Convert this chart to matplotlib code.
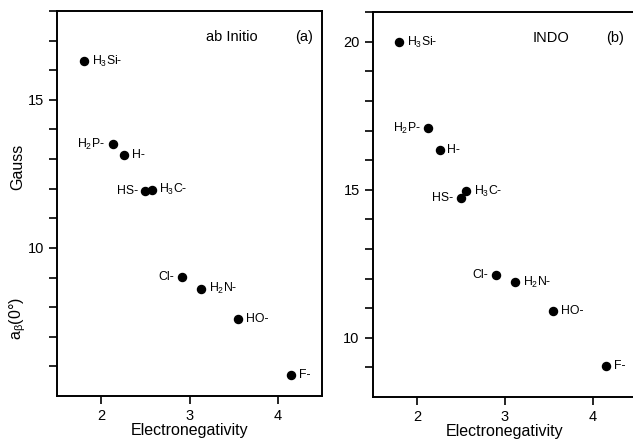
import matplotlib
matplotlib.use("Agg")
import matplotlib.pyplot as plt

plt.rcParams['font.family'] = ['Liberation Sans', 'DejaVu Sans']
plt.rcParams['mathtext.default'] = 'regular'

# substituents and their labels
labels = ['H$_3$Si-', 'H$_2$P-', 'H-', 'HS-', 'H$_3$C-', 'Cl-', 'H$_2$N-', 'HO-', 'F-']
# which side the label sits on
sides = ['r', 'l', 'r', 'l', 'r', 'l', 'r', 'r', 'r']

# electronegativity (x)
en_a = [1.81, 2.13, 2.26, 2.50, 2.57, 2.91, 3.13, 3.55, 4.15]
en_b = [1.80, 2.13, 2.26, 2.50, 2.56, 2.90, 3.12, 3.55, 4.15]

# a_beta(0 deg) in Gauss
gauss_a = [16.31, 13.51, 13.13, 11.92, 11.97, 9.02, 8.62, 7.59, 5.72]
gauss_b = [19.98, 17.08, 16.35, 14.74, 14.96, 12.12, 11.87, 10.92, 9.03]

fig = plt.figure(figsize=(6.33, 4.40), dpi=100)
ax1 = fig.add_axes([0.090, 0.100, 0.419, 0.875])
ax2 = fig.add_axes([0.589, 0.098, 0.417, 0.874])


def draw(ax, xs, ys, ylim, yticks, title, tag, title_x, tag_x):
    ax.plot(xs, ys, 'o', color='black', markersize=5.8)
    for x, y, lab, s in zip(xs, ys, labels, sides):
        if s == 'r':
            ax.annotate(lab, (x, y), xytext=(5.5, 0), textcoords='offset points',
                        ha='left', va='center', fontsize=8.8)
        else:
            ax.annotate(lab, (x, y), xytext=(-5.5, 0), textcoords='offset points',
                        ha='right', va='center', fontsize=8.8)
    ax.set_xlim(1.5, 4.5)
    ax.set_ylim(*ylim)
    ax.set_xticks([2, 3, 4])
    ax.set_yticks(range(int(ylim[0]) + 1, int(ylim[1]) + 1), minor=True)
    ax.set_yticks(yticks)
    ax.tick_params(axis='both', which='both', direction='out', length=6, width=1.2,
                   labelsize=10.5, top=False, right=False)
    for sp in ax.spines.values():
        sp.set_linewidth(1.4)
    ax.set_xlabel('Electronegativity', fontsize=11.5, labelpad=0)
    ax.text(title_x, 0.932, title, transform=ax.transAxes, ha='center', va='center',
            fontsize=10.5)
    ax.text(tag_x, 0.932, tag, transform=ax.transAxes, ha='center', va='center',
            fontsize=10.5)


draw(ax1, en_a, gauss_a, (5, 18), [10, 15], 'ab Initio', '(a)', 0.66, 0.93)
draw(ax2, en_b, gauss_b, (8, 21), [10, 15, 20], 'INDO', '(b)', 0.675, 0.917)

fig.text(0.028, 0.62, 'Gauss', rotation=90, ha='center', va='center', fontsize=11.5)
fig.text(0.028, 0.277, 'a$_{β}$(0°)', rotation=90, ha='center', va='center', fontsize=11.5)

fig.savefig('out.png', dpi=100)
